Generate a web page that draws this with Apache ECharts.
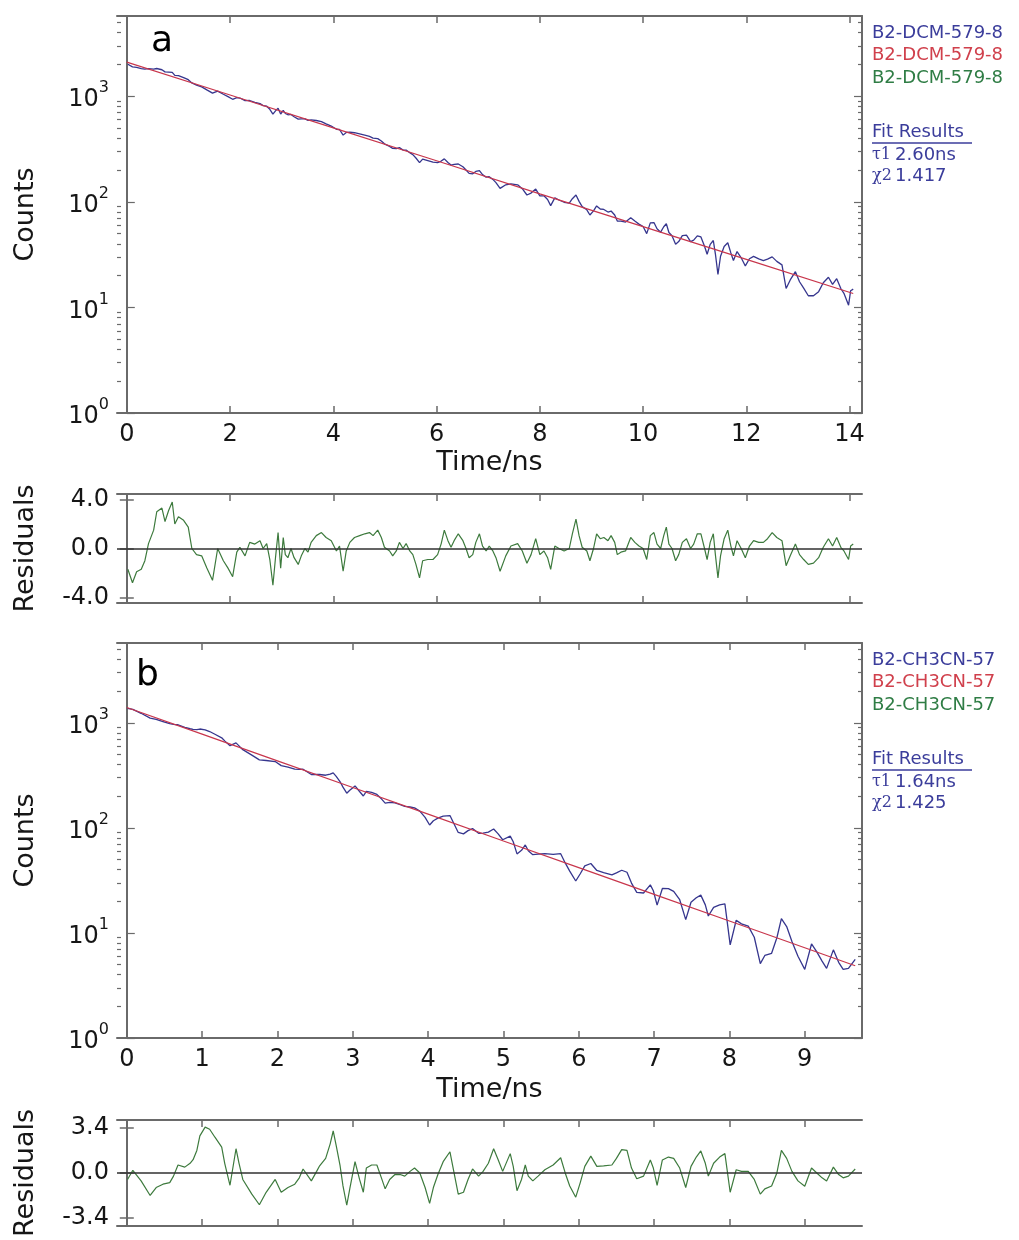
<!DOCTYPE html>
<html><head><meta charset="utf-8">
<script src="https://cdn.jsdelivr.net/npm/echarts@6/dist/echarts.min.js"></script>
<style>html,body{margin:0;padding:0;background:#fff}#chart{width:1019px;height:1240px}</style>
</head><body><div id="chart"></div>
<script>
// ---------------- Panel a data ----------------
const timeA = [0.02,0.11,0.19,0.28,0.35,0.42,0.52,0.58,0.68,0.74,
0.81,0.88,0.93,1.0,1.1,1.19,1.26,1.35,1.45,1.55,
1.66,1.76,1.87,1.96,2.05,2.13,2.19,2.29,2.38,2.48,
2.58,2.64,2.71,2.77,2.83,2.88,2.93,2.98,3.03,3.07,
3.12,3.18,3.24,3.32,3.38,3.45,3.51,3.57,3.67,3.77,
3.86,3.96,4.06,4.12,4.19,4.25,4.32,4.41,4.51,4.61,
4.70,4.77,4.86,4.93,4.99,5.09,5.15,5.22,5.28,5.35,
5.41,5.48,5.54,5.60,5.67,5.73,5.83,5.93,6.02,6.09,
6.15,6.22,6.28,6.34,6.42,6.51,6.57,6.63,6.70,6.76,
6.83,6.89,6.96,7.02,7.09,7.15,7.23,7.34,7.44,7.57,
7.66,7.75,7.83,7.92,8.00,8.08,8.15,8.21,8.29,8.37,
8.47,8.57,8.63,8.70,8.76,8.82,8.91,8.97,9.04,9.10,
9.17,9.24,9.32,9.38,9.45,9.50,9.57,9.66,9.76,9.84,
9.92,10.0,10.07,10.14,10.21,10.27,10.34,10.40,10.45,10.50,
10.56,10.63,10.69,10.76,10.84,10.92,10.98,11.05,11.12,11.19,
11.24,11.30,11.36,11.40,11.45,11.50,11.57,11.64,11.70,11.75,
11.82,11.90,11.98,12.06,12.14,12.24,12.33,12.41,12.50,12.59,
12.69,12.77,12.85,12.95,13.03,13.11,13.20,13.30,13.40,13.49,
13.59,13.67,13.75,13.83,13.89,13.98,14.02,14.07];
const countsA = [2007,1894,1877,1826,1809,1823,1806,1830,1781,1700,
1694,1680,1577,1566,1500,1434,1336,1275,1227,1148,
1069,1118,1044,990,935,971,961,907,911,875,
851,815,804,752,676,726,768,677,734,686,
667,672,639,607,611,611,591,597,589,575,
547,522,486,484,428,454,458,451,439,427,
416,401,397,377,354,335,320,319,326,309,
309,292,280,260,235,254,246,238,235,243,
255,236,223,226,228,215,200,186,184,194,
197,181,171,173,163,152,134,145,148,145,
133,116,121,132,114,114,105,92,109,104,
99,97,107,116,101,90,84,75,82,91.5,
85.5,84.6,80,81.8,75,65.7,65.5,64.3,70.6,65.7,
61.5,58.3,50,63.2,63.6,55.5,51.6,58,62,51.2,
47.7,39.7,42,47.8,48.4,42,43.4,47.6,46.5,38,
31.9,39.5,43,32.2,20.5,30.5,37.8,40.9,32.8,27.8,
33.8,29.5,24.7,28.9,30.4,28.8,27.8,28.7,30.1,27.3,
25.3,15.1,18.2,21.8,17.5,15.2,12.9,12.9,14.1,17.1,
19.3,16.5,18.7,15.1,13.6,10.5,14.4,14.9];
const residA = [-1.7,-2.8,-1.9,-1.7,-1.0,0.4,1.5,3.0,3.3,2.2,
3.1,3.8,2.0,2.6,2.3,1.75,0,-0.5,-0.6,-1.6,
-2.6,0,-1,-1.6,-2.3,-0.3,0.1,-0.6,0.5,0.36,
0.64,0,0.4,-0.9,-3.0,-0.75,1.3,-1.6,0.9,-0.5,
-0.75,0,-0.75,-1.3,-0.6,0,-0.3,0.5,1.05,1.3,
0.9,0.64,-0.2,0.2,-1.86,-0.2,0.5,0.9,1.05,1.2,
1.3,1.05,1.5,0.9,0.1,-0.2,-0.6,-0.2,0.5,0,
0.4,-0.2,-0.5,-1.3,-2.4,-1,-0.9,-0.9,-0.5,0.4,
1.5,0.64,0.1,0.64,1.2,0.64,0,-0.75,-0.5,0.5,
1.2,0.2,-0.2,0.2,-0.2,-0.75,-1.86,-0.6,0.2,0.4,
-0.2,-1.2,-0.5,0.8,-0.5,-0.2,-0.75,-1.7,0.2,0,
-0.2,0,1.2,2.4,1.05,0.1,-0.2,-1,0,1.2,
0.8,0.9,0.64,1.05,0.5,-0.5,-0.3,-0.2,0.9,0.5,
0.2,0,-0.9,1.05,1.3,0.36,0,1.05,1.75,0.36,
0,-1,-0.5,0.5,0.8,0,0.36,1.2,1.2,0,
-0.9,0.5,1.2,-0.5,-2.4,-0.6,0.8,1.5,0.2,-0.6,
0.64,0,-0.75,0.2,0.64,0.5,0.5,0.8,1.3,0.9,
0.64,-1.4,-0.6,0.36,-0.5,-0.9,-1.3,-1.2,-0.75,0.1,
0.8,0.2,0.9,0.1,-0.2,-0.9,0.2,0.36];
const fitTimeA = [0,2,4,6,8,10,12,14.07];
const fitA = [2100,1026,501,245,119,58.3,28.5,13.55];

// ---------------- Panel b data ----------------
const timeB = [0.01,0.08,0.19,0.31,0.39,0.48,0.57,0.62,0.68,0.77,
0.84,0.88,0.93,0.97,1.04,1.10,1.17,1.26,1.30,1.37,
1.45,1.49,1.54,1.66,1.76,1.85,1.97,2.05,2.14,2.23,
2.29,2.34,2.45,2.52,2.56,2.64,2.70,2.74,2.78,2.83,
2.87,2.92,2.96,3.03,3.09,3.14,3.18,3.25,3.32,3.38,
3.43,3.49,3.56,3.63,3.69,3.76,3.82,3.89,3.96,4.02,
4.07,4.13,4.20,4.29,4.40,4.47,4.53,4.59,4.67,4.73,
4.80,4.87,4.93,4.99,5.09,5.13,5.18,5.24,5.29,5.33,
5.39,5.46,5.55,5.66,5.76,5.82,5.88,5.96,6.02,6.08,
6.16,6.24,6.33,6.44,6.50,6.57,6.64,6.70,6.77,6.86,
6.95,6.99,7.04,7.11,7.19,7.26,7.34,7.42,7.49,7.56,
7.62,7.68,7.72,7.79,7.87,7.94,8.01,8.09,8.16,8.25,
8.33,8.41,8.47,8.56,8.63,8.69,8.76,8.83,8.91,9.00,
9.09,9.16,9.23,9.29,9.38,9.45,9.51,9.58,9.67];
const countsB = [1374,1343,1232,1109,1077,1029,981,967,958,905,
878,866,860,873,858,826,778,720,673,606,
644,603,555,492,444,438,428,391,378,362,
360,362,322,322,322,317,325,334,309,276,
244,214,228,251,222,201,223,218,208,189,
172,175,173,166,160,158,155,144.5,126,106.5,
117,123.7,129.3,131,90.5,87.7,94.1,98.5,88.8,89.1,
91.2,97.5,87.6,77.1,83.4,73.7,56.5,61.2,68.8,60.6,
55.6,56.2,56.8,56,56.8,46.4,38.8,31.2,36.6,43.5,
45.8,39.3,37.6,35.7,37.3,39.5,37.8,29.8,24.3,24,
28.7,25.2,18.4,26.5,26.4,24.9,20.7,13.4,19.6,21.6,
22.9,18.5,14.5,17.5,18.5,18.9,7.7,13.2,12.2,11.6,
9.1,5.1,6.1,6.4,9.0,13.7,11.5,8.3,6.0,4.5,
7.85,6.6,5.4,4.6,6.9,5.25,4.5,4.6,5.6];
const residB = [-0.49,0.2,-0.6,-1.7,-1.1,-0.85,-0.73,-0.24,0.6,0.44,
0.73,1.0,1.7,2.8,3.46,3.3,2.7,1.95,0.73,-0.93,
1.83,0.73,-0.49,-1.6,-2.4,-1.46,-0.49,-1.46,-1.1,-0.85,
-0.37,0.3,-0.6,0.12,0.54,1.1,2.2,3.17,2.07,0.6,
-0.98,-2.44,-1.2,0.85,-0.49,-1.46,0.37,0.6,0.6,-0.37,
-1.2,-0.49,-0.12,-0.12,-0.24,0.12,0.37,0,-1.1,-2.3,
-1.1,-0.12,0.85,1.6,-1.6,-1.46,-0.49,0.3,-0.24,0.12,
0.73,1.83,1.0,0.12,1.46,0.5,-1.34,-0.49,0.6,-0.24,
-0.6,-0.24,0.24,0.6,1.15,0,-0.98,-1.83,-0.73,0.5,
1.27,0.5,0.54,0.6,1.1,1.76,1.7,0.37,-0.44,-0.24,
0.98,0.37,-0.93,0.98,1.2,1.1,0.37,-1.1,0.5,1.2,
1.66,0.73,-0.24,0.73,1.2,1.46,-1.46,0.24,0.12,0.12,
-0.49,-1.6,-1.2,-0.98,0,1.7,1.1,0.12,-0.6,-1.0,
0.37,0,-0.37,-0.6,0.44,-0.12,-0.37,-0.24,0.3];
const fitTimeB = [0,1,2,3,4,5,6,7,8,9,9.67];
const fitB = [1400,780,434,242,135,75,41.8,23.3,13,7.23,4.87];

// ---------------- ticks & texts ----------------
const xTicksA = [0,2,4,6,8,10,12,14];
const xTicksB = [0,1,2,3,4,5,6,7,8,9];
const decadeTicks = [1,10,100,1000];
const minorFactors = [2,3,4,5,6,7,8,9];
const residTicksA = [-4,0,4];
const residTicksB = [-3.4,0,3.4];
const legendNamesA = ['B2-DCM-579-8','B2-DCM-579-8','B2-DCM-579-8'];
const legendNamesB = ['B2-CH3CN-57','B2-CH3CN-57','B2-CH3CN-57'];
const fitSymbols = ['τ1','χ2'];
const fitValuesA = ['2.60ns','1.417'];
const fitValuesB = ['1.64ns','1.425'];
const panelLetters = ['a','b'];

// ---------------- styling ----------------
const FONT = '"DejaVu Sans", "Liberation Sans", Arial, sans-serif';
const SERIF = '"DejaVu Serif", "Liberation Serif", serif';
const AX = '#6a6a6a', TXT = '#161616';
const C_BLUE = '#36368e', C_RED = '#c8364c', C_GREEN = '#3d7a3d';
const L_BLUE = '#3b3d9b', L_RED = '#d0404c', L_GREEN = '#2f7d45';
const YMIN = 1, YMAX = 5750;
const LOGMAX = Math.log10(YMAX);
const minorTicks = [];
decadeTicks.forEach(d => minorFactors.forEach(f => { if (d * f < YMAX) minorTicks.push(d * f); }));

const zip = (a, b) => a.map((v, i) => [v, b[i]]);

function xAx(grid, pos, min, max, ticks, showLabel, name, gap) {
  return {
    type: 'value', gridIndex: grid, position: pos, min: min, max: max,
    axisLine: { show: true, onZero: false, lineStyle: { color: AX, width: 2 } },
    axisTick: { show: true, inside: true, length: 7, customValues: ticks, lineStyle: { color: AX, width: 1.5 } },
    axisLabel: { show: showLabel, customValues: ticks, margin: 10, fontSize: 24, fontFamily: FONT, color: TXT },
    splitLine: { show: false },
    name: name || '', nameLocation: 'middle', nameGap: gap || 36,
    nameTextStyle: { fontSize: 27, fontFamily: FONT, color: TXT }
  };
}
// data axis (log scale) carrying the decade labels
function yLog(grid, name) {
  return {
    type: 'log', logBase: 10, gridIndex: grid, position: 'left', min: YMIN, max: YMAX,
    axisLine: { show: true, lineStyle: { color: AX, width: 2 } },
    axisTick: { show: false },
    axisLabel: {
      show: true, customValues: decadeTicks, margin: 8,
      formatter: v => '{b|10}{s|' + Math.round(Math.log10(v)) + '}',
      rich: {
        b: { fontSize: 24, fontFamily: FONT, color: TXT, lineHeight: 32, verticalAlign: 'bottom' },
        s: { fontSize: 16, fontFamily: FONT, color: TXT, lineHeight: 32, verticalAlign: 'top' }
      }
    },
    splitLine: { show: false },
    name: name, nameLocation: 'middle', nameGap: 78,
    nameTextStyle: { fontSize: 27, fontFamily: FONT, color: TXT }
  };
}
// tick-only axes in log10 space (major decade ticks / minor 2..9 ticks)
function yTicks(grid, pos, values, len, showLine) {
  const t = values.map(v => Math.log10(v));
  return {
    type: 'value', gridIndex: grid, position: pos, min: 0, max: LOGMAX,
    axisLine: { show: showLine, lineStyle: { color: AX, width: 2 } },
    axisTick: { show: true, inside: true, length: len, customValues: t, lineStyle: { color: AX, width: 1.2 } },
    axisLabel: { show: false, customValues: t },
    splitLine: { show: false }
  };
}
function yRes(grid, pos, lim, ticks, showLabel, name) {
  return {
    type: 'value', gridIndex: grid, position: pos, min: -lim, max: lim,
    axisLine: { show: true, lineStyle: { color: AX, width: 2 } },
    axisTick: { show: true, inside: true, length: 7, customValues: ticks, lineStyle: { color: AX, width: 1.5 } },
    axisLabel: { show: showLabel, customValues: ticks, margin: 8, fontSize: 24, fontFamily: FONT, color: TXT,
      formatter: v => Number(v).toFixed(1) },
    splitLine: { show: false },
    name: name || '', nameLocation: 'middle', nameGap: 78,
    nameTextStyle: { fontSize: 27, fontFamily: FONT, color: TXT }
  };
}

const xRangeA = [-0.19, 14.24];
const xRangeB = [-0.13, 9.76];

const xAxis = [
  xAx(0, 'bottom', xRangeA[0], xRangeA[1], xTicksA, true, 'Time/ns', 36),
  xAx(0, 'top', xRangeA[0], xRangeA[1], xTicksA, false),
  xAx(1, 'bottom', xRangeA[0], xRangeA[1], xTicksA, false),
  xAx(1, 'top', xRangeA[0], xRangeA[1], xTicksA, false),
  xAx(2, 'bottom', xRangeB[0], xRangeB[1], xTicksB, true, 'Time/ns', 38),
  xAx(2, 'top', xRangeB[0], xRangeB[1], xTicksB, false),
  xAx(3, 'bottom', xRangeB[0], xRangeB[1], xTicksB, false),
  xAx(3, 'top', xRangeB[0], xRangeB[1], xTicksB, false)
];
const yAxis = [
  yLog(0, 'Counts'),                              // 0
  yTicks(0, 'left', decadeTicks, 8, false),       // 1
  yTicks(0, 'left', minorTicks, 4, false),        // 2
  yTicks(0, 'right', decadeTicks, 8, true),       // 3
  yTicks(0, 'right', minorTicks, 4, false),       // 4
  yRes(1, 'left', 4.45, residTicksA, true, 'Residuals'),  // 5
  yRes(1, 'right', 4.45, residTicksA, false),     // 6
  yLog(2, 'Counts'),                              // 7
  yTicks(2, 'left', decadeTicks, 8, false),       // 8
  yTicks(2, 'left', minorTicks, 4, false),        // 9
  yTicks(2, 'right', decadeTicks, 8, true),       // 10
  yTicks(2, 'right', minorTicks, 4, false),       // 11
  yRes(3, 'left', 4.0, residTicksB, true, 'Residuals'),   // 12
  yRes(3, 'right', 4.0, residTicksB, false)       // 13
];

const zeroLine = {
  silent: true, symbol: 'none', label: { show: false },
  lineStyle: { color: '#303030', width: 1.6, type: 'solid' },
  data: [{ yAxis: 0 }]
};
const lineBase = { type: 'line', showSymbol: false, symbol: 'none', animation: false, silent: true };

const series = [
  Object.assign({}, lineBase, { name: 'dataA', xAxisIndex: 0, yAxisIndex: 0, data: zip(timeA, countsA), lineStyle: { color: C_BLUE, width: 1.3 } }),
  Object.assign({}, lineBase, { name: 'fitA', xAxisIndex: 0, yAxisIndex: 0, data: zip(fitTimeA, fitA), lineStyle: { color: C_RED, width: 1.2 } }),
  Object.assign({}, lineBase, { name: 'resA', xAxisIndex: 2, yAxisIndex: 5, data: zip(timeA, residA), lineStyle: { color: C_GREEN, width: 1.2 }, markLine: zeroLine }),
  Object.assign({}, lineBase, { name: 'dataB', xAxisIndex: 4, yAxisIndex: 7, data: zip(timeB, countsB), lineStyle: { color: C_BLUE, width: 1.3 } }),
  Object.assign({}, lineBase, { name: 'fitB', xAxisIndex: 4, yAxisIndex: 7, data: zip(fitTimeB, fitB), lineStyle: { color: C_RED, width: 1.2 } }),
  Object.assign({}, lineBase, { name: 'resB', xAxisIndex: 6, yAxisIndex: 12, data: zip(timeB, residB), lineStyle: { color: C_GREEN, width: 1.2 }, markLine: zeroLine })
];

function txt(x, y, text, fill, size, family) {
  return { type: 'text', x: x, y: y, silent: true,
    style: { text: text, fill: fill, fontSize: size, fontFamily: family || FONT, verticalAlign: 'middle', align: 'left' } };
}
const graphic = [];
function addInfo(top, names, values) {
  const cols = [L_BLUE, L_RED, L_GREEN];
  names.forEach((n, i) => graphic.push(txt(872, top + 17 + i * 22.5, n, cols[i], 18)));
  graphic.push(txt(872, top + 116, 'Fit Results', L_BLUE, 18));
  graphic.push({ type: 'line', silent: true, shape: { x1: 872, y1: top + 127, x2: 972, y2: top + 127 }, style: { stroke: L_BLUE, lineWidth: 1.5 } });
  fitSymbols.forEach((s, i) => {
    graphic.push(txt(872, top + 139 + i * 21, s, L_BLUE, 16, SERIF));
    graphic.push(txt(895, top + 139 + i * 21, values[i], L_BLUE, 18));
  });
}
addInfo(16, legendNamesA, fitValuesA);
addInfo(643, legendNamesB, fitValuesB);
graphic.push(txt(151, 42, panelLetters[0], '#000', 36));
graphic.push(txt(136, 676, panelLetters[1], '#000', 36));

const option = {
  backgroundColor: '#ffffff',
  animation: false,
  grid: [
    { left: 117, top: 16, width: 745, height: 397 },
    { left: 117, top: 494, width: 745, height: 109 },
    { left: 117, top: 643, width: 745, height: 395 },
    { left: 117, top: 1120, width: 745, height: 109 }
  ],
  xAxis: xAxis,
  yAxis: yAxis,
  series: series,
  graphic: graphic
};
const chart = echarts.init(document.getElementById('chart'), null, { renderer: 'canvas' });
chart.setOption(option);
</script></body></html>
